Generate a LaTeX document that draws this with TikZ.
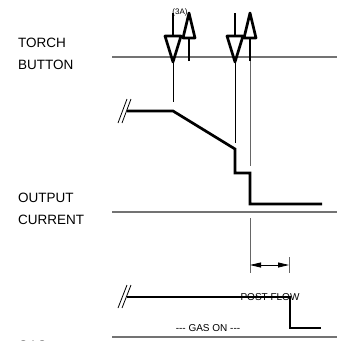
\documentclass[tikz,border=0pt]{standalone}
\usepackage{fontspec}
\setmainfont{Liberation Sans}
\usetikzlibrary{arrows.meta,calc}

\begin{document}
\begin{tikzpicture}[x=1pt,y=-1pt,
  axisline/.style={line width=1.1pt, draw=black!55},
  signal/.style={line width=2.7pt, line join=miter},
  trigger/.style={line width=2.7pt, line join=round},
  guide/.style={line width=0.8pt},
  tag/.style={font=\fontsize{13.5}{15}\selectfont, anchor=west, inner sep=0pt},
  note/.style={font=\fontsize{10}{12}\selectfont, inner sep=0pt}]
  \useasboundingbox (0,0) rectangle (347,340);
  %
  \coordinate (tb) at (112,57);
  \coordinate (oc) at (112,212);
  \coordinate (gs) at (112,337);
  \coordinate (p1) at (173,62);
  \coordinate (r1) at (189,61);
  \coordinate (p2) at (235,62);
  \coordinate (r2) at (250,61);
  %
  \node[tag] (torch) at (18,43) {TORCH};
  \node[tag] (button) at (18,65) {BUTTON};
  \node[tag] (output) at (18,198) {OUTPUT};
  \node[tag] (current) at (18,220) {CURRENT};
  \node[tag] (gas) at (18,346) {GAS};
  %
  \draw[axisline] (tb) -- (337,57);
  \draw[axisline] (oc) -- (337,212);
  \draw[axisline] (gs) -- (337,337);
  %
  \draw[trigger] (173,13) -- (173,36);
  \draw[trigger] (165,36) -- (181,36) -- (p1) -- cycle;
  \draw[trigger] (r1) -- (189,38);
  \draw[trigger] (183,38) -- (195,38) -- (189,13) -- cycle;
  \draw[trigger] (235,13) -- (235,36);
  \draw[trigger] (227,36) -- (243,36) -- (p2) -- cycle;
  \draw[trigger] (r2) -- (250,38);
  \draw[trigger] (244,38) -- (256,38) -- (250,13) -- cycle;
  \node[font=\fontsize{8}{9}\selectfont, inner sep=0pt] (amps) at (180,12) {(3A)};
  %
  \draw[guide] (p1) -- (173,102);
  \draw[guide] (p2) -- (235,143);
  \draw[guide, draw=black!60] (r2) -- (250,166);
  \draw[guide, draw=black!60] (250,218) -- (250,273);
  \draw[guide, draw=black!60] (289,257) -- (289,273);
  \draw[guide, {Triangle[length=11pt,width=5pt]}-{Triangle[length=11pt,width=5pt]}] (250,265) -- (289,265);
  %
  \draw[guide] (118,123) -- (127,99);
  \draw[guide] (122,123) -- (131,99);
  \draw[signal] (127,111) -- (173,111) -- (235,149) -- (235,173) -- (250,173) -- (250,204) -- (322,204);
  %
  \draw[guide] (118,308) -- (127,285);
  \draw[guide] (122,308) -- (131,285);
  \draw[signal] (127,297) -- (290,297) -- (290,328) -- (321,328);
  \node[note] (post) at (270,297) {POST FLOW};
  \node[note] (gason) at (208,328) {-{}-{}- GAS ON -{}-{}-};
  %
\end{tikzpicture}
\end{document}
